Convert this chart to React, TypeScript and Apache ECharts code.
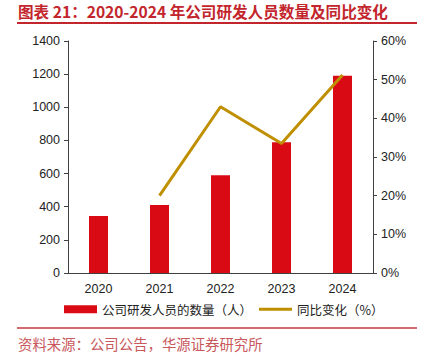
import React, { useEffect, useRef } from "react";
import * as echarts from "echarts";

const years = ["2020", "2021", "2022", "2023", "2024"];
const staff = [344, 410, 590, 789, 1191];
const yoy = [null, 20.0, 43.0, 33.5, 51.2];
const leftTicks = [0, 1400, 200];
const rightTicks = [0, 60, 10];

const FONT = "'Liberation Sans', Arial, 'Noto Sans CJK SC', sans-serif";
const CJK = "'Noto Sans CJK SC', sans-serif";

export default function App() {
  const ref = useRef<HTMLDivElement>(null);
  useEffect(() => {
    const chart = echarts.init(ref.current!, null, { renderer: "svg" });
    chart.setOption({
      animation: false,
      backgroundColor: "#fff",
      grid: { left: 68, right: 53, top: 41, bottom: 90, containLabel: false },
      graphic: [
        {
          type: "text",
          left: 18,
          top: 3,
          style: {
            text: "图表 21：2020-2024 年公司研发人员数量及同比变化",
            font: `bold 15.6px ${CJK}`,
            fill: "#C3252C",
          },
        },
        {
          type: "line",
          shape: { x1: 17, y1: 23, x2: 417, y2: 23 },
          style: { stroke: "#C3252C", lineWidth: 2 },
        },
        {
          type: "line",
          shape: { x1: 17, y1: 328, x2: 417, y2: 328 },
          style: { stroke: "#C3393F", lineWidth: 1.5 },
        },
        {
          type: "text",
          left: 18,
          top: 336,
          style: {
            text: "资料来源：公司公告，华源证券研究所",
            font: `14.4px ${CJK}`,
            fill: "#C8585C",
          },
        },
      ],
      legend: {
        left: 59,
        top: 298,
        itemWidth: 33,
        itemHeight: 8,
        itemGap: 7,
        textStyle: { fontFamily: CJK, fontSize: 12.5, color: "#222" },
        data: [
          { name: "公司研发人员的数量（人）", icon: "rect" },
          {
            name: "同比变化（%）",
            icon: "path://M0,0 M33,8 M0,2.5 L33,2.5 L33,5.5 L0,5.5 Z",
          },
        ],
      },
      xAxis: {
        type: "category",
        data: years,
        axisLine: { lineStyle: { color: "#404040", width: 1 } },
        axisTick: { show: false },
        axisLabel: { fontFamily: FONT, fontSize: 12.5, color: "#222", margin: 10 },
      },
      yAxis: [
        {
          type: "value",
          min: leftTicks[0],
          max: leftTicks[1],
          interval: leftTicks[2],
          axisLine: { show: true, lineStyle: { color: "#404040" } },
          axisTick: { show: true, length: 4, lineStyle: { color: "#404040" } },
          splitLine: { show: false },
          axisLabel: {
            fontFamily: FONT,
            fontSize: 12.5,
            color: "#222",
            margin: 8,
            formatter: (v: number) => String(v),
          },
        },
        {
          type: "value",
          min: rightTicks[0],
          max: rightTicks[1],
          interval: rightTicks[2],
          position: "right",
          axisLine: { show: true, lineStyle: { color: "#404040" } },
          axisTick: { show: true, length: 4, lineStyle: { color: "#404040" } },
          splitLine: { show: false },
          axisLabel: {
            fontFamily: FONT,
            fontSize: 12.5,
            color: "#222",
            margin: 8,
            formatter: "{value}%",
          },
        },
      ],
      series: [
        {
          name: "公司研发人员的数量（人）",
          type: "bar",
          data: staff,
          barWidth: 19,
          itemStyle: { color: "#DA0A14" },
        },
        {
          name: "同比变化（%）",
          type: "line",
          yAxisIndex: 1,
          data: yoy,
          symbol: "none",
          lineStyle: { color: "#BF8F00", width: 3 },
          itemStyle: { color: "#BF8F00" },
        },
      ],
    });
    return () => chart.dispose();
  }, []);
  return (
    <div
      ref={ref}
      style={{ position: "fixed", left: 0, top: 0, width: 426, height: 363 }}
    />
  );
}
